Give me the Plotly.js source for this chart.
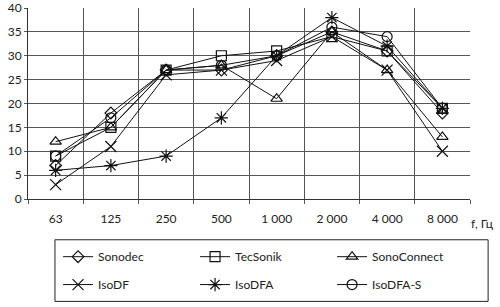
<!DOCTYPE html>
<html><head><meta charset="utf-8">
<script src="https://cdn.plot.ly/plotly-3.0.1.min.js"></script>
<style>html,body{margin:0;padding:0;background:#fff}#c{width:500px;height:307px}</style>
</head><body><div id="c"></div>
<script>
const categories = ["63","125","250","500","1 000","2 000","4 000","8 000"];
const sonodec     = [7, 18, 27, 27, 30, 35, 31, 18];
const tecSonik    = [9, 15, 27, 30, 31, 34, 31, 19];
const sonoConnect = [12, 15, 27, 28, 21, 35, 27, 13];
const isoDF       = [3, 11, 26, 27, 29, 34, 27, 10];
const isoDFA      = [6, 7, 9, 17, 30, 38, 32, 19];
const isoDFAS     = [9, 17, 27, 28, 30, 36, 34, 19];
const seriesNames = ["Sonodec","TecSonik","SonoConnect","IsoDF","IsoDFA","IsoDFA-S"];
const seriesData = [sonodec, tecSonik, sonoConnect, isoDF, isoDFA, isoDFAS];
const symbols = ["diamond-open","square-open","triangle-up-open","x-thin-open","asterisk-open","circle-open"];
const sizes = [9, 10, 10, 11, 11, 10];
const font = "Lato, Open Sans, DejaVu Sans, sans-serif";
const traces = seriesData.map((d,i)=>({
  type:"scatter", mode:"lines+markers", name:seriesNames[i],
  legend: i < 3 ? "legend" : "legend2",
  x:categories, y:d,
  line:{color:"#111", width:1},
  marker:{symbol:symbols[i], size:sizes[i], color:"#111", line:{color:"#111", width:1.2}}
}));
const legendCommon = {orientation:"h", xanchor:"left", yanchor:"middle",
  borderwidth:0, bgcolor:"rgba(0,0,0,0)", entrywidth:92, entrywidthmode:"pixels",
  font:{size:12, color:"#222"}, traceorder:"normal"};
const layout = {
  width:500, height:307,
  margin:{l:28, r:30, t:8, b:108},
  paper_bgcolor:"#fff", plot_bgcolor:"#fff",
  font:{family:font, size:12, color:"#222"},
  showlegend:true,
  xaxis:{type:"category", tickson:"boundaries", showgrid:true, gridcolor:"#555", gridwidth:1,
    ticks:"outside", ticklen:4, tickcolor:"#555", showline:true, linecolor:"#333", linewidth:1,
    zeroline:false, range:[-0.5,7.5], tickfont:{size:12}, ticklabelstandoff:9},
  yaxis:{range:[0,40], dtick:5, showgrid:true, gridcolor:"#555", gridwidth:1,
    ticks:"outside", ticklen:3, tickcolor:"#555", showline:true, linecolor:"#333", linewidth:1,
    zeroline:false, tickfont:{size:12}},
  legend:Object.assign({x:0.068, y:-0.302}, legendCommon),
  legend2:Object.assign({x:0.068, y:-0.448}, legendCommon),
  shapes:[{type:"rect", xref:"paper", yref:"paper", x0:0.061, x1:1.041, y0:-0.2135, y1:-0.536,
    line:{color:"#222", width:1}, fillcolor:"rgba(0,0,0,0)"}],
  annotations:[{xref:"paper", yref:"paper", x:0.997, y:0, yshift:-24, xanchor:"left", yanchor:"middle",
    text:"f, Гц", showarrow:false, font:{size:12, color:"#222"}}]
};
Plotly.newPlot("c", traces, layout, {staticPlot:true, displayModeBar:false});
</script></body></html>
